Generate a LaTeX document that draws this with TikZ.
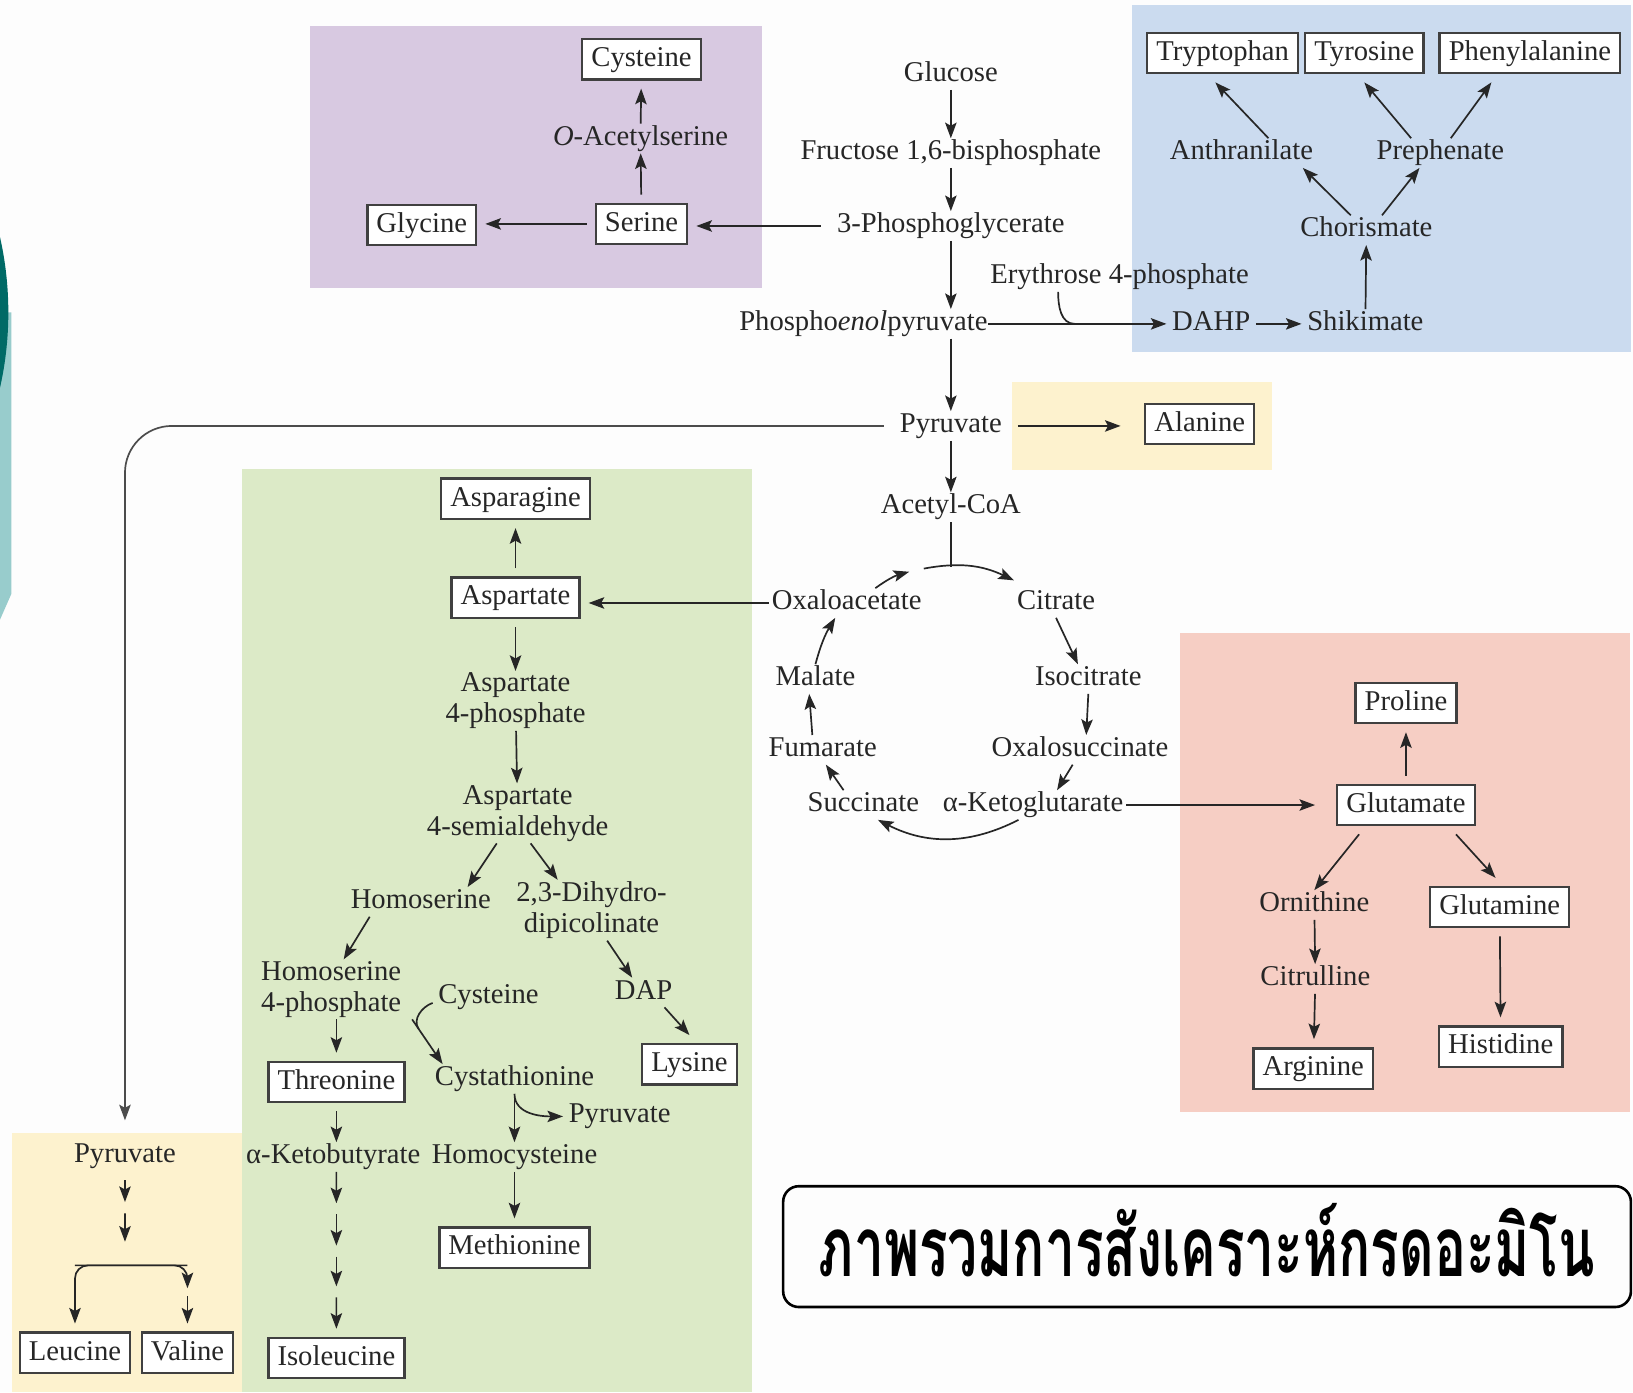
\documentclass[tikz,border=0pt]{standalone}
\usepackage{fontspec}
\setmainfont{Liberation Serif}
\newfontfamily\thaifont[Script=Thai,FakeStretch=0.64]{Loma}
\usetikzlibrary{positioning, calc, arrows.meta}
\definecolor{paper}{RGB}{253,253,253}
\definecolor{lilac}{RGB}{216,201,225}
\definecolor{skyblue}{RGB}{203,219,239}
\definecolor{cream}{RGB}{253,242,206}
\definecolor{sage}{RGB}{220,234,199}
\definecolor{salmon}{RGB}{246,206,196}
\definecolor{tealdark}{RGB}{0,106,102}
\definecolor{teallight}{RGB}{152,204,204}

\begin{document}
\begin{tikzpicture}
  [x=0.4pt, y=0.4pt,
   font=\fontsize{11}{12}\selectfont,
   cpd/.style={inner xsep=6pt, inner ysep=0.5pt, text height=7.5pt,
     text depth=2.5pt, text=black!85},
   two/.style={cpd, align=center, text height=, text depth=},
   tca/.style={cpd, inner xsep=1pt},
   aa/.style={draw=black!75, line width=0.9pt, fill=white, inner xsep=3.5pt,
     inner ysep=2.5pt, text height=8pt, text depth=2.5pt, outer sep=3.5pt,
     text=black!85},
   arr/.style={-{Stealth[length=6pt,width=4.4pt,inset=1.2pt]}, line width=0.65pt, draw=black!85}]
  \useasboundingbox (0,0) rectangle (1568,-1337);

  % panels
  \fill[paper] (0,0) rectangle (1568,-1337);
  \fill[lilac] (298,-25) rectangle (732,-277);
  \fill[skyblue] (1087,-5) rectangle (1566,-338);
  \fill[cream] (972,-367) rectangle (1221,-451);
  \fill[sage] (232,-450) rectangle (722,-1337);
  \fill[salmon] (1133,-608) rectangle (1565,-1068);
  \fill[cream] (12,-1088) rectangle (232,-1337);
  \begin{scope}
    \clip (0,0) rectangle (1568,-1337);
    \fill[teallight] (0,-300) -- (11,-300) -- (11,-570) -- (0,-595) -- cycle;
    \fill[tealdark] (-320,-300) circle[radius=131.2pt];
  \end{scope}

  % glycolysis
  \node[cpd] (glc)  at (913,-72)  {Glucose};
  \node[cpd] (fbp)  at (913,-147) {Fructose 1,6-bisphosphate};
  \node[cpd] (pga)  at (913,-217) {3-Phosphoglycerate};
  \node[cpd, inner xsep=0pt] (pep) at (829,-311) {Phospho\textit{enol}pyruvate};
  \node[cpd] (pyr)  at (913,-409) {Pyruvate};
  \node[cpd] (acoa) at (913,-487) {Acetyl-CoA};

  % serine family
  \node[aa]  (ser) at (616,-215) {Serine};
  \node[aa]  (gly) at (405,-216) {Glycine};
  \node[cpd] (oas) at (615,-133) {\textit{O}-Acetylserine};
  \node[aa]  (cys) at (616,-57)  {Cysteine};

  % aromatic family
  \node[aa]  (trp)   at (1174,-51)  {Tryptophan};
  \node[aa]  (tyr)   at (1310,-51)  {Tyrosine};
  \node[aa]  (phe)   at (1469,-51)  {Phenylalanine};
  \node[cpd] (anth)  at (1192,-147) {Anthranilate};
  \node[cpd] (preph) at (1383,-147) {Prephenate};
  \node[cpd] (chor)  at (1312,-221) {Chorismate};
  \node[cpd] (e4p)   at (1075,-266) {Erythrose 4-phosphate};
  \node[cpd, inner xsep=2pt] (dahp) at (1163,-311) {DAHP};
  \node[cpd, inner xsep=2pt] (shik) at (1311,-311) {Shikimate};
  \coordinate (e4pjoin) at (1032,-311);

  \node[aa] (ala) at (1152,-407) {Alanine};

  % aspartate family
  \node[aa]  (asn)   at (495,-479)  {Asparagine};
  \node[aa]  (asp)   at (495,-574)  {Aspartate};
  \node[two] (asp4p) at (495,-673)  {Aspartate\\4-phosphate};
  \node[two] (asa)   at (497,-781)  {Aspartate\\4-semialdehyde};
  \node[cpd] (hser)  at (404,-866)  {Homoserine};
  \node[two] (dhdp)  at (568,-874)  {2,3-Dihydro-\\dipicolinate};
  \node[two] (hserp) at (318,-950)  {Homoserine\\4-phosphate};
  \node[cpd] (dap)   at (618,-953)  {DAP};
  \node[aa]  (lys)   at (662,-1022) {Lysine};
  \node[cpd, inner xsep=2pt] (cysg) at (469,-957) {Cysteine};
  \node[aa]  (thr)   at (323,-1039) {Threonine};
  \node[cpd] (cysta) at (494,-1036) {Cystathionine};
  \node[cpd, inner xsep=2pt] (pyrg) at (595,-1072) {Pyruvate};
  \node[cpd] (akb)   at (320,-1111) {α-Ketobutyrate};
  \node[cpd] (hcys)  at (494,-1111) {Homocysteine};
  \node[aa]  (met)   at (494,-1198) {Methionine};
  \node[aa]  (ile)   at (323,-1304) {Isoleucine};
  \coordinate (cysjoin) at (402,-988);

  % citric acid cycle
  \node[tca] (oaa)  at (813,-579)  {Oxaloacetate};
  \node[tca] (cit)  at (1014,-579) {Citrate};
  \node[tca] (icit) at (1045,-652) {Isocitrate};
  \node[tca] (osuc) at (1037,-720) {Oxalosuccinate};
  \node[tca] (akg)  at (992,-773)  {α-Ketoglutarate};
  \node[tca] (suc)  at (829,-773)  {Succinate};
  \node[tca] (fum)  at (790,-720)  {Fumarate};
  \node[tca] (mal)  at (783,-652)  {Malate};
  \coordinate (tcatop) at (913,-544);
  \coordinate (tcain)  at (873,-549);
  \coordinate (arcL)   at (887,-546);

  % glutamate family
  \node[aa]  (glu)  at (1350,-773)  {Glutamate};
  \node[aa]  (pro)  at (1350,-675)  {Proline};
  \node[cpd] (orn)  at (1262,-869)  {Ornithine};
  \node[aa]  (gln)  at (1440,-871)  {Glutamine};
  \node[cpd] (citr) at (1263,-940)  {Citrulline};
  \node[aa]  (arg)  at (1261,-1026) {Arginine};
  \node[aa]  (his)  at (1441,-1005) {Histidine};

  % pyruvate family
  \node[cpd] (pyrb) at (120,-1110) {Pyruvate};
  \node[aa]  (leu)  at (72,-1299)  {Leucine};
  \node[aa]  (val)  at (180,-1299) {Valine};
  \coordinate (fork)   at (125,-1215);
  \coordinate (valmid) at (180,-1237);

  \node[draw=black, line width=1pt, rounded corners=6pt, minimum width=325.6pt,
    minimum height=46.4pt, inner sep=0pt] (title) at (1159,-1197)
    {\thaifont\bfseries\fontsize{32}{32}\selectfont\raisebox{5pt}{ภาพรวมการสังเคราะห์กรดอะมิโน}};

  % main line
  \draw[arr] (glc) -- (fbp);
  \draw[arr] (fbp) -- (pga);
  \draw[arr] (pga) -- (pga |- pep.north);
  \draw[arr] (pga |- pep.south) -- (pyr);
  \draw[arr] (pyr) -- (acoa);

  \draw[arr] (pga) -- (pga -| ser.east);
  \draw[arr] (ser.west) -- (ser.west -| gly.east);
  \draw[arr] (ser) -- (oas);
  \draw[arr] (oas) -- (cys);

  \draw[arr] (pep.east) -- (dahp.west);
  \draw[line width=0.65pt, black!85] ([xshift=-23.6pt]e4p.south) to[out=-90, in=180] (e4pjoin);
  \draw[arr] (dahp) -- (shik);
  \draw[arr] (shik) -- (chor);
  \draw[arr] ([xshift=-6pt]chor.north) -- ([xshift=23.6pt]anth.south);
  \draw[arr] ([xshift=6pt]chor.north) -- ([xshift=-8pt]preph.south);
  \draw[arr] ([xshift=10.4pt]anth.north) -- ([xshift=-2.8pt]trp.south);
  \draw[arr] ([xshift=-11.2pt]preph.north) -- (tyr.south);
  \draw[arr] ([xshift=4pt]preph.north) -- ([xshift=-14.8pt]phe.south);

  \draw[arr, shorten >=6pt] (pyr.east) -- (pyr.east -| ala.west);
  \draw[arr, draw=black!70, rounded corners=18pt, shorten >=8pt] (pyr.west) -| (pyrb.north);

  \draw[arr] (asp) -- (asn);
  \draw[arr] (oaa.west) -- (oaa.west -| asp.east);
  \draw[arr] (asp) -- (asp4p);
  \draw[arr] (asp4p) -- (asa);
  \draw[arr] ([xshift=-8pt]asa.south) -- ([xshift=18pt]hser.north);
  \draw[arr] ([xshift=5pt]asa.south) -- ([xshift=-13pt]dhdp.north);
  \draw[arr] ([xshift=-19.6pt]hser.south) -- ([xshift=4.8pt]hserp.north);
  \draw[arr] ([xshift=6pt]dhdp.south) -- ([xshift=-4.4pt]dap.north);
  \draw[arr] ([xshift=8pt]dap.south) -- (lys.north);
  \draw[arr] (thr |- hserp.south) -- (thr);
  \draw[arr] ([xshift=-2pt]hserp.south east) -- ([xshift=-27.6pt]cysta.north);
  \draw[line width=0.65pt, black!85] ([yshift=-2.4pt]cysg.west) to[out=200, in=124] (cysjoin);
  \draw[arr] (cysta) -- (hcys);
  \draw[arr] (cysta.south) to[out=-90, in=180] (pyrg.west);
  \draw[arr] (hcys) -- (met);
  \draw[arr] (thr.south) -- (thr.south |- akb.north);
  \foreach \a/\b in {0/.2, .27/.47, .54/.73, .8/1}
    \draw[arr] ($(akb.south -| ile)!\a!(ile.north)$) -- ($(akb.south -| ile)!\b!(ile.north)$);

  \draw[line width=0.65pt, black!85] (acoa) -- (tcatop);
  \draw[arr] ([xshift=11pt]oaa.north) to[bend left=10] (tcain);
  \draw[arr] (arcL) to[bend left=18] ([yshift=3pt]cit.north west);
  \draw[arr] (cit.south) -- ([xshift=-4pt]icit.north);
  \draw[arr] (icit.south) -- ([xshift=2.4pt]osuc.north);
  \draw[arr] ([xshift=-2.8pt]osuc.south) -- ([xshift=9.2pt]akg.north);
  \draw[arr] ([xshift=-5.6pt]akg.south) to[bend left=27] ([xshift=5.6pt]suc.south);
  \draw[arr] ([xshift=-7.6pt]suc.north) -- ([xshift=1.2pt]fum.south);
  \draw[arr] ([xshift=-4pt]fum.north) -- ([xshift=-2.4pt]mal.south);
  \draw[arr] (mal.north) to[bend left=8] ([xshift=-4.4pt]oaa.south);
  \draw[arr, shorten >=5pt] (akg.east) -- (akg.east -| glu.west);

  \draw[arr] (glu) -- (pro);
  \draw[arr] ([xshift=-18pt]glu.south) -- (orn.north);
  \draw[arr] ([xshift=19.2pt]glu.south) -- ([xshift=-1.6pt]gln.north);
  \draw[arr] (orn) -- (citr);
  \draw[arr] (citr) -- (arg);
  \draw[arr] (gln) -- (his);

  \foreach \a/\b in {.1/.33, .45/.75}
    \draw[arr] ($(pyrb.south)!\a!(pyrb.south |- fork)$) -- ($(pyrb.south)!\b!(pyrb.south |- fork)$);
  \draw[arr, rounded corners=5pt] (val |- fork) -| (leu.north);
  \draw[arr, rounded corners=5pt] (leu |- fork) -| (valmid);
  \draw[arr] ([yshift=-3pt]valmid) -- (val.north);
\end{tikzpicture}
\end{document}
